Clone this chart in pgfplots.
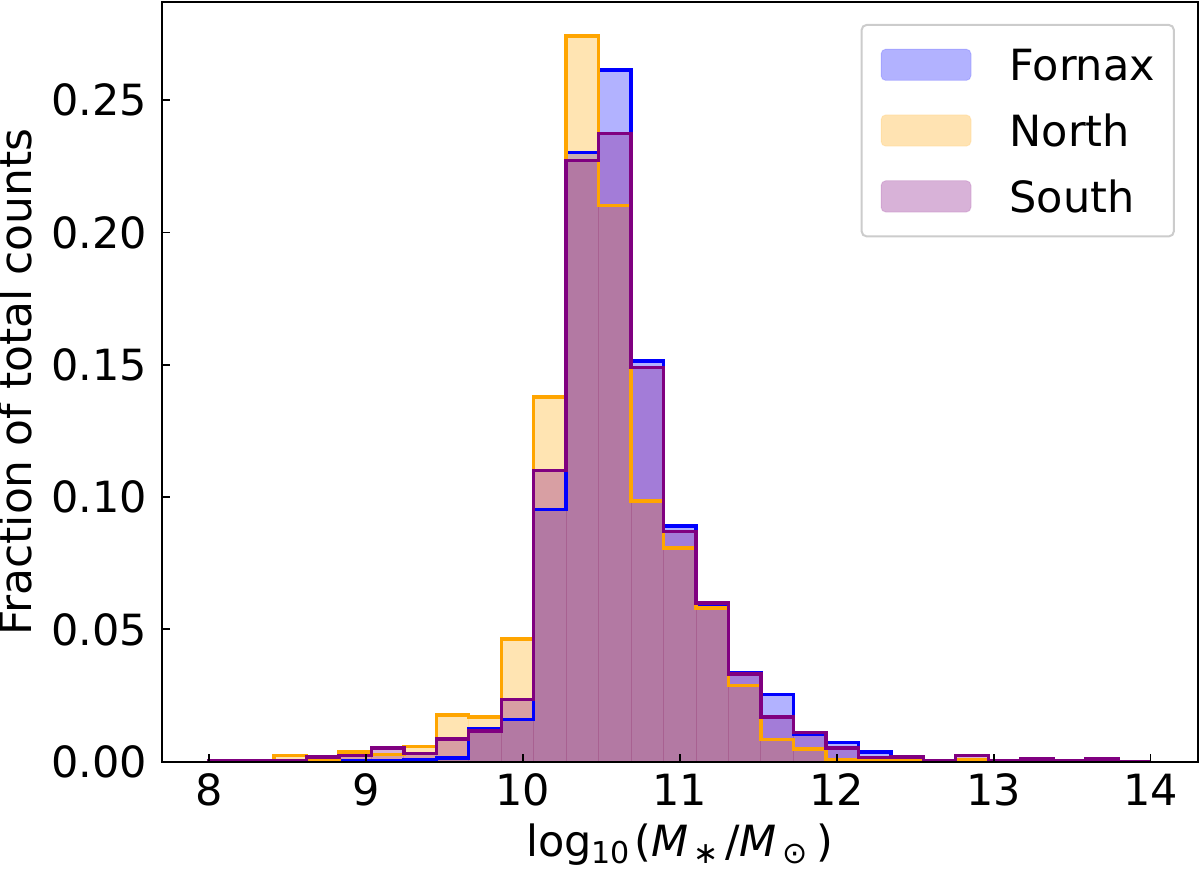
\documentclass[border=0pt]{standalone}
\usepackage{fontspec}
\setmainfont{DejaVu Sans}
\usepackage{pgfplots}
\usepackage{pgfplotstable}
\pgfplotsset{compat=1.18}

\definecolor{fornaxc}{RGB}{0,0,255}
\definecolor{northc}{RGB}{255,165,0}
\definecolor{southc}{RGB}{128,0,128}

% Normalised stellar-mass histograms: left bin edges (30 edges from 8 to 14),
% fraction of total counts in each bin. The first row opens the step outline.
\pgfplotstableread{
x        fornax  north   south
8.0000   0       0       0
8.0000   0       0       0.0003
8.2069   0       0       0.0003
8.4138   0       0.0023  0.0004
8.6207   0       0.0005  0.0017
8.8276   0.0003  0.0037  0.0023
9.0345   0.0005  0.0027  0.0052
9.2414   0.0008  0.0058  0.0030
9.4483   0.0014  0.0177  0.0085
9.6552   0.0124  0.0168  0.0116
9.8621   0.0159  0.0464  0.0234
10.0690  0.0953  0.1378  0.1101
10.2759  0.2302  0.2743  0.2273
10.4828  0.2615  0.2103  0.2374
10.6897  0.1514  0.0985  0.1489
10.8966  0.0890  0.0808  0.0871
11.1034  0.0585  0.0580  0.0600
11.3103  0.0338  0.0287  0.0332
11.5172  0.0253  0.0083  0.0168
11.7241  0.0105  0.0048  0.0111
11.9310  0.0073  0.0008  0.0052
12.1379  0.0037  0.0005  0.0016
12.3448  0.0010  0.0007  0.0017
12.5517  0.0003  0.0003  0.0005
12.7586  0.0003  0.0008  0.0023
12.9655  0       0       0.0003
13.1724  0       0       0.0010
13.3793  0       0       0.0003
13.5862  0       0       0.0010
13.7931  0       0       0
14.0000  0       0       0
}\histdata

\begin{document}
\begin{tikzpicture}[font=\fontsize{10.75pt}{13pt}\selectfont]
\begin{axis}[
  scale only axis,
  width=258.9pt, height=189.8pt,
  xmin=7.7, xmax=14.3,
  ymin=0, ymax=0.287,
  xtick={8,9,10,11,12,13,14},
  ytick={0,0.05,0.10,0.15,0.20,0.25},
  scaled y ticks=false,
  /pgf/number format/assume math mode=true,
  yticklabel style={/pgf/number format/fixed, /pgf/number format/fixed zerofill,
    /pgf/number format/precision=2, /tikz/inner sep=3.5pt},
  xticklabel style={inner sep=0pt, yshift=-2.9pt},
  tick align=inside,
  tick pos=left,
  major tick length=2pt,
  tick style={black, line width=0.45pt},
  axis line style={black, line width=0.45pt},
  axis on top,
  xlabel={log\textsubscript{10}\kern0.6pt(\textit{M}\kern1.3pt\textsubscript{∗}\kern1.2pt/\textit{M}\kern1.3pt\textsubscript{⊙}\kern1.8pt)},
  ylabel={Fraction of total counts},
  xlabel style={at={(axis description cs:0.5,-0.0811)}, anchor=north, inner sep=0pt},
  ylabel style={at={(axis description cs:-0.1248,0.5)}, anchor=south, inner sep=0pt,
    font=\fontsize{11pt}{13pt}\selectfont},
  legend cell align=left,
  legend image code/.code={\draw[#1] (0pt,-3.925pt) rectangle (22.5pt,3.925pt);},
  legend style={
    at={(1,1)}, anchor=north east, xshift=-5.7pt, yshift=-5.4pt,
    draw=black!20, line width=0.5pt, rounded corners=1.2pt,
    inner xsep=4.7pt, inner ysep=5.9pt,
    row sep=8.3pt, column sep=0pt,
    nodes={inner sep=0pt, text depth=0pt},
    /tikz/every odd column/.append style={column sep=9.5pt},
  },
]
% translucent bars
\addplot[ybar interval, fill=fornaxc, fill opacity=0.3, draw=fornaxc, draw opacity=0.12,
  line width=0.25pt, skip coords between index={0}{1}] table[x=x, y=fornax] {\histdata};
\addlegendentry{Fornax}
\addplot[ybar interval, fill=northc, fill opacity=0.3, draw=northc, draw opacity=0.12,
  line width=0.25pt, skip coords between index={0}{1}] table[x=x, y=north] {\histdata};
\addlegendentry{North}
\addplot[ybar interval, fill=southc, fill opacity=0.3, draw=southc, draw opacity=0.12,
  line width=0.25pt, skip coords between index={0}{1}] table[x=x, y=south] {\histdata};
\addlegendentry{South}
% step outlines
\addplot[const plot, draw=fornaxc, line width=0.85pt, line join=miter, forget plot]
  table[x=x, y=fornax] {\histdata};
\addplot[const plot, draw=northc, line width=0.85pt, line join=miter, forget plot]
  table[x=x, y=north] {\histdata};
\addplot[const plot, draw=southc, line width=0.85pt, line join=miter, forget plot]
  table[x=x, y=south] {\histdata};
\end{axis}
\pgfresetboundingbox
\path ([shift={(-40.5pt,-26.6pt)}]current axis.south west)
  rectangle ([shift={(0.6pt,0.6pt)}]current axis.north east);
\end{tikzpicture}
\end{document}
